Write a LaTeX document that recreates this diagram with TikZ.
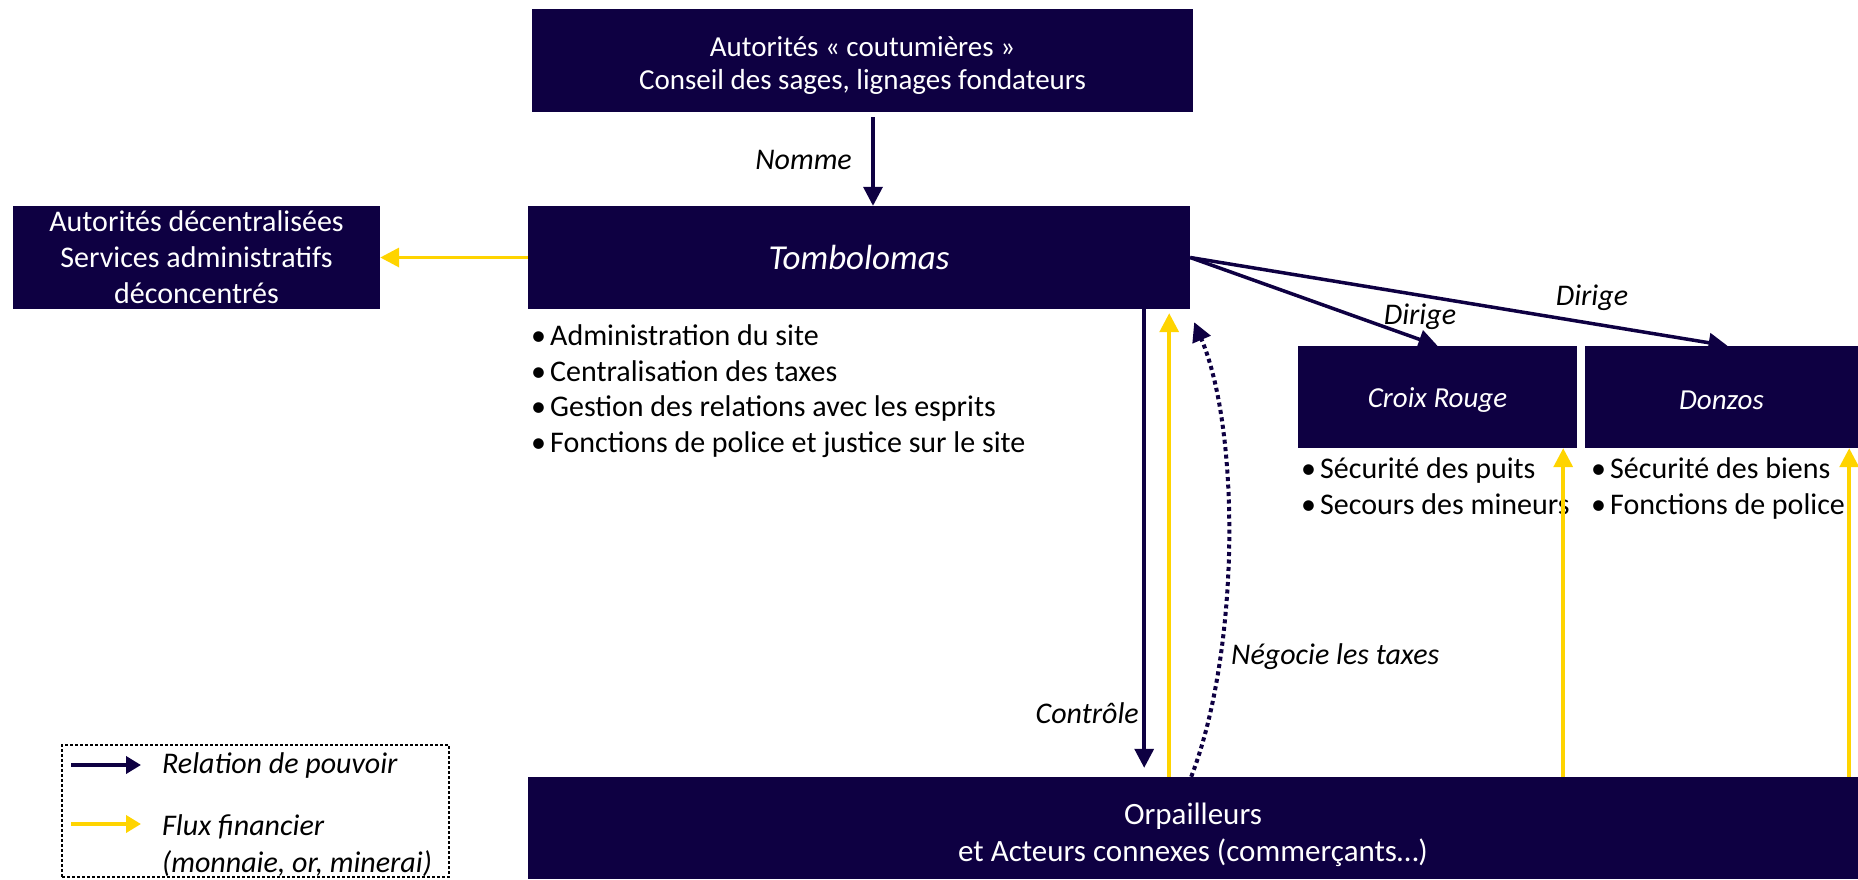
\documentclass[tikz,border=0pt]{standalone}
\usepackage{fontspec}
\setmainfont{Carlito}
\usetikzlibrary{arrows.meta,positioning}
\definecolor{navy}{RGB}{14,0,66}
\definecolor{jaune}{RGB}{255,212,0}
\tikzset{
  boite/.style={fill=navy, text=white, inner sep=0pt, align=center, font=\fontsize{29}{37}\selectfont},
  puces/.style={anchor=base west, align=left, inner sep=0pt, font=\fontsize{30}{35.5}\selectfont},
  etiq/.style={inner sep=0pt, font=\fontsize{30}{35.5}\selectfont\itshape},
  pouvoir/.style={navy, line width=3.5pt, -{Triangle[length=19pt,width=19pt]}},
  flux/.style={jaune, line width=3.5pt, -{Triangle[length=19pt,width=19pt]}},
}
\newcommand{\puce}{\textbullet\hspace{4pt}}
\newcommand{\bas}[1]{\rule{0pt}{#1}}

\begin{document}
\begin{tikzpicture}[x=1pt,y=-1pt]
\useasboundingbox (0,0) rectangle (1858,879);

% Boites
\node[boite, minimum width=661pt, minimum height=103pt, font=\fontsize{29}{33}\selectfont] (coutume) at (862.5,60.5)
  {\bas{30pt}Autorités «~coutumières~»\\Conseil des sages, lignages fondateurs};
\node[boite, minimum width=662pt, minimum height=103pt, font=\fontsize{35}{40}\selectfont\itshape] (tombo) at (859,257.5) {Tombolomas};
\node[boite, minimum width=367pt, minimum height=103pt, font=\fontsize{30}{36}\selectfont] (decentr) at (196.5,257.5)
  {Autorités décentralisées\\Services administratifs\\déconcentrés};
\node[boite, minimum width=279pt, minimum height=102pt, font=\fontsize{29}{32}\selectfont\itshape] (croix) at (1437.5,397) {\bas{26pt}Croix Rouge};
\node[boite, minimum width=273pt, minimum height=102pt, font=\fontsize{29}{32}\selectfont\itshape] (donzos) at (1721.5,397) {\bas{26pt}Donzos};
\node[boite, minimum width=1330pt, minimum height=102pt, font=\fontsize{31}{37}\selectfont] (orpa) at (1193,828)
  {\bas{36pt}Orpailleurs\\et Acteurs connexes (commerçants\ldots)};

% Listes
\node[puces] (tomboliste) at (531,452)
  {\puce Administration du site\\\puce Centralisation des taxes\\\puce Gestion des relations avec les esprits\\\puce Fonctions de police et justice sur le site};
\node[puces] (croixliste) at (1301,514) {\puce Sécurité des puits\\\puce Secours des mineurs};
\node[puces] (donzosliste) at (1591,514) {\puce Sécurité des biens\\\puce Fonctions de police};

% Relations de pouvoir
\path ([xshift=10.5pt]coutume.south) coordinate (n1);
\draw[pouvoir, shorten <=5pt] (n1) -- (n1 |- tombo.north);
\node[etiq, anchor=east] (nomme) at (852,160) {Nomme};

\draw[pouvoir] (tombo.east) -- (croix.north);
\draw[pouvoir] (tombo.east) -- ([xshift=6pt]donzos.north);
\node[etiq] (dirige1) at (1420,317) {Dirige};
\node[etiq] (dirige2) at (1592,298) {Dirige};

\path ([xshift=-46pt]tombo.south east) coordinate (c1);
\draw[pouvoir, shorten >=9pt] (c1) -- (c1 |- orpa.north);
\node[etiq, anchor=east] (controle) at (1139,713) {Contrôle};

\draw[pouvoir, dash pattern=on 4pt off 3.5pt, line width=4pt]
  ([xshift=47pt]orpa.north -| c1) .. controls +(49,-127) and +(46,108) .. ([xshift=50pt,yshift=-13pt]c1);
\node[etiq, anchor=west] (negocie) at (1231,657) {Négocie les taxes};

% Flux financiers
\draw[flux] (tombo.west) -- (decentr.east);
\path ([xshift=-21pt]tombo.south east) coordinate (f1);
\draw[flux, shorten >=4pt] (f1 |- orpa.north) -- (f1);
\path ([xshift=-14pt]croix.south east) coordinate (f2);
\draw[flux] (f2 |- orpa.north) -- (f2);
\path ([xshift=-9pt]donzos.south east) coordinate (f3);
\draw[flux] (f3 |- orpa.north) -- (f3);

% Legende
\node[draw=black, line width=1.2pt, dash pattern=on 3pt off 2pt, minimum width=387pt, minimum height=132pt, inner sep=0pt] (legende) at (255.5,811) {};
\coordinate (lp1) at (71,765);
\coordinate (lp2) at (141,765);
\coordinate (lf1) at (71,824);
\coordinate (lf2) at (141,824);
\draw[navy, line width=4.5pt, -{Triangle[length=15pt,width=17pt]}] (lp1) -- (lp2);
\draw[jaune, line width=4.5pt, -{Triangle[length=15pt,width=17pt]}] (lf1) -- (lf2);
\node[etiq, anchor=west] (legpouvoir) at (162,765) {Relation de pouvoir};
\node[etiq, anchor=base west, align=left, font=\fontsize{30}{37}\selectfont\itshape] (legflux) at (162,872) {Flux financier\\(monnaie, or, minerai)};
\end{tikzpicture}
\end{document}
